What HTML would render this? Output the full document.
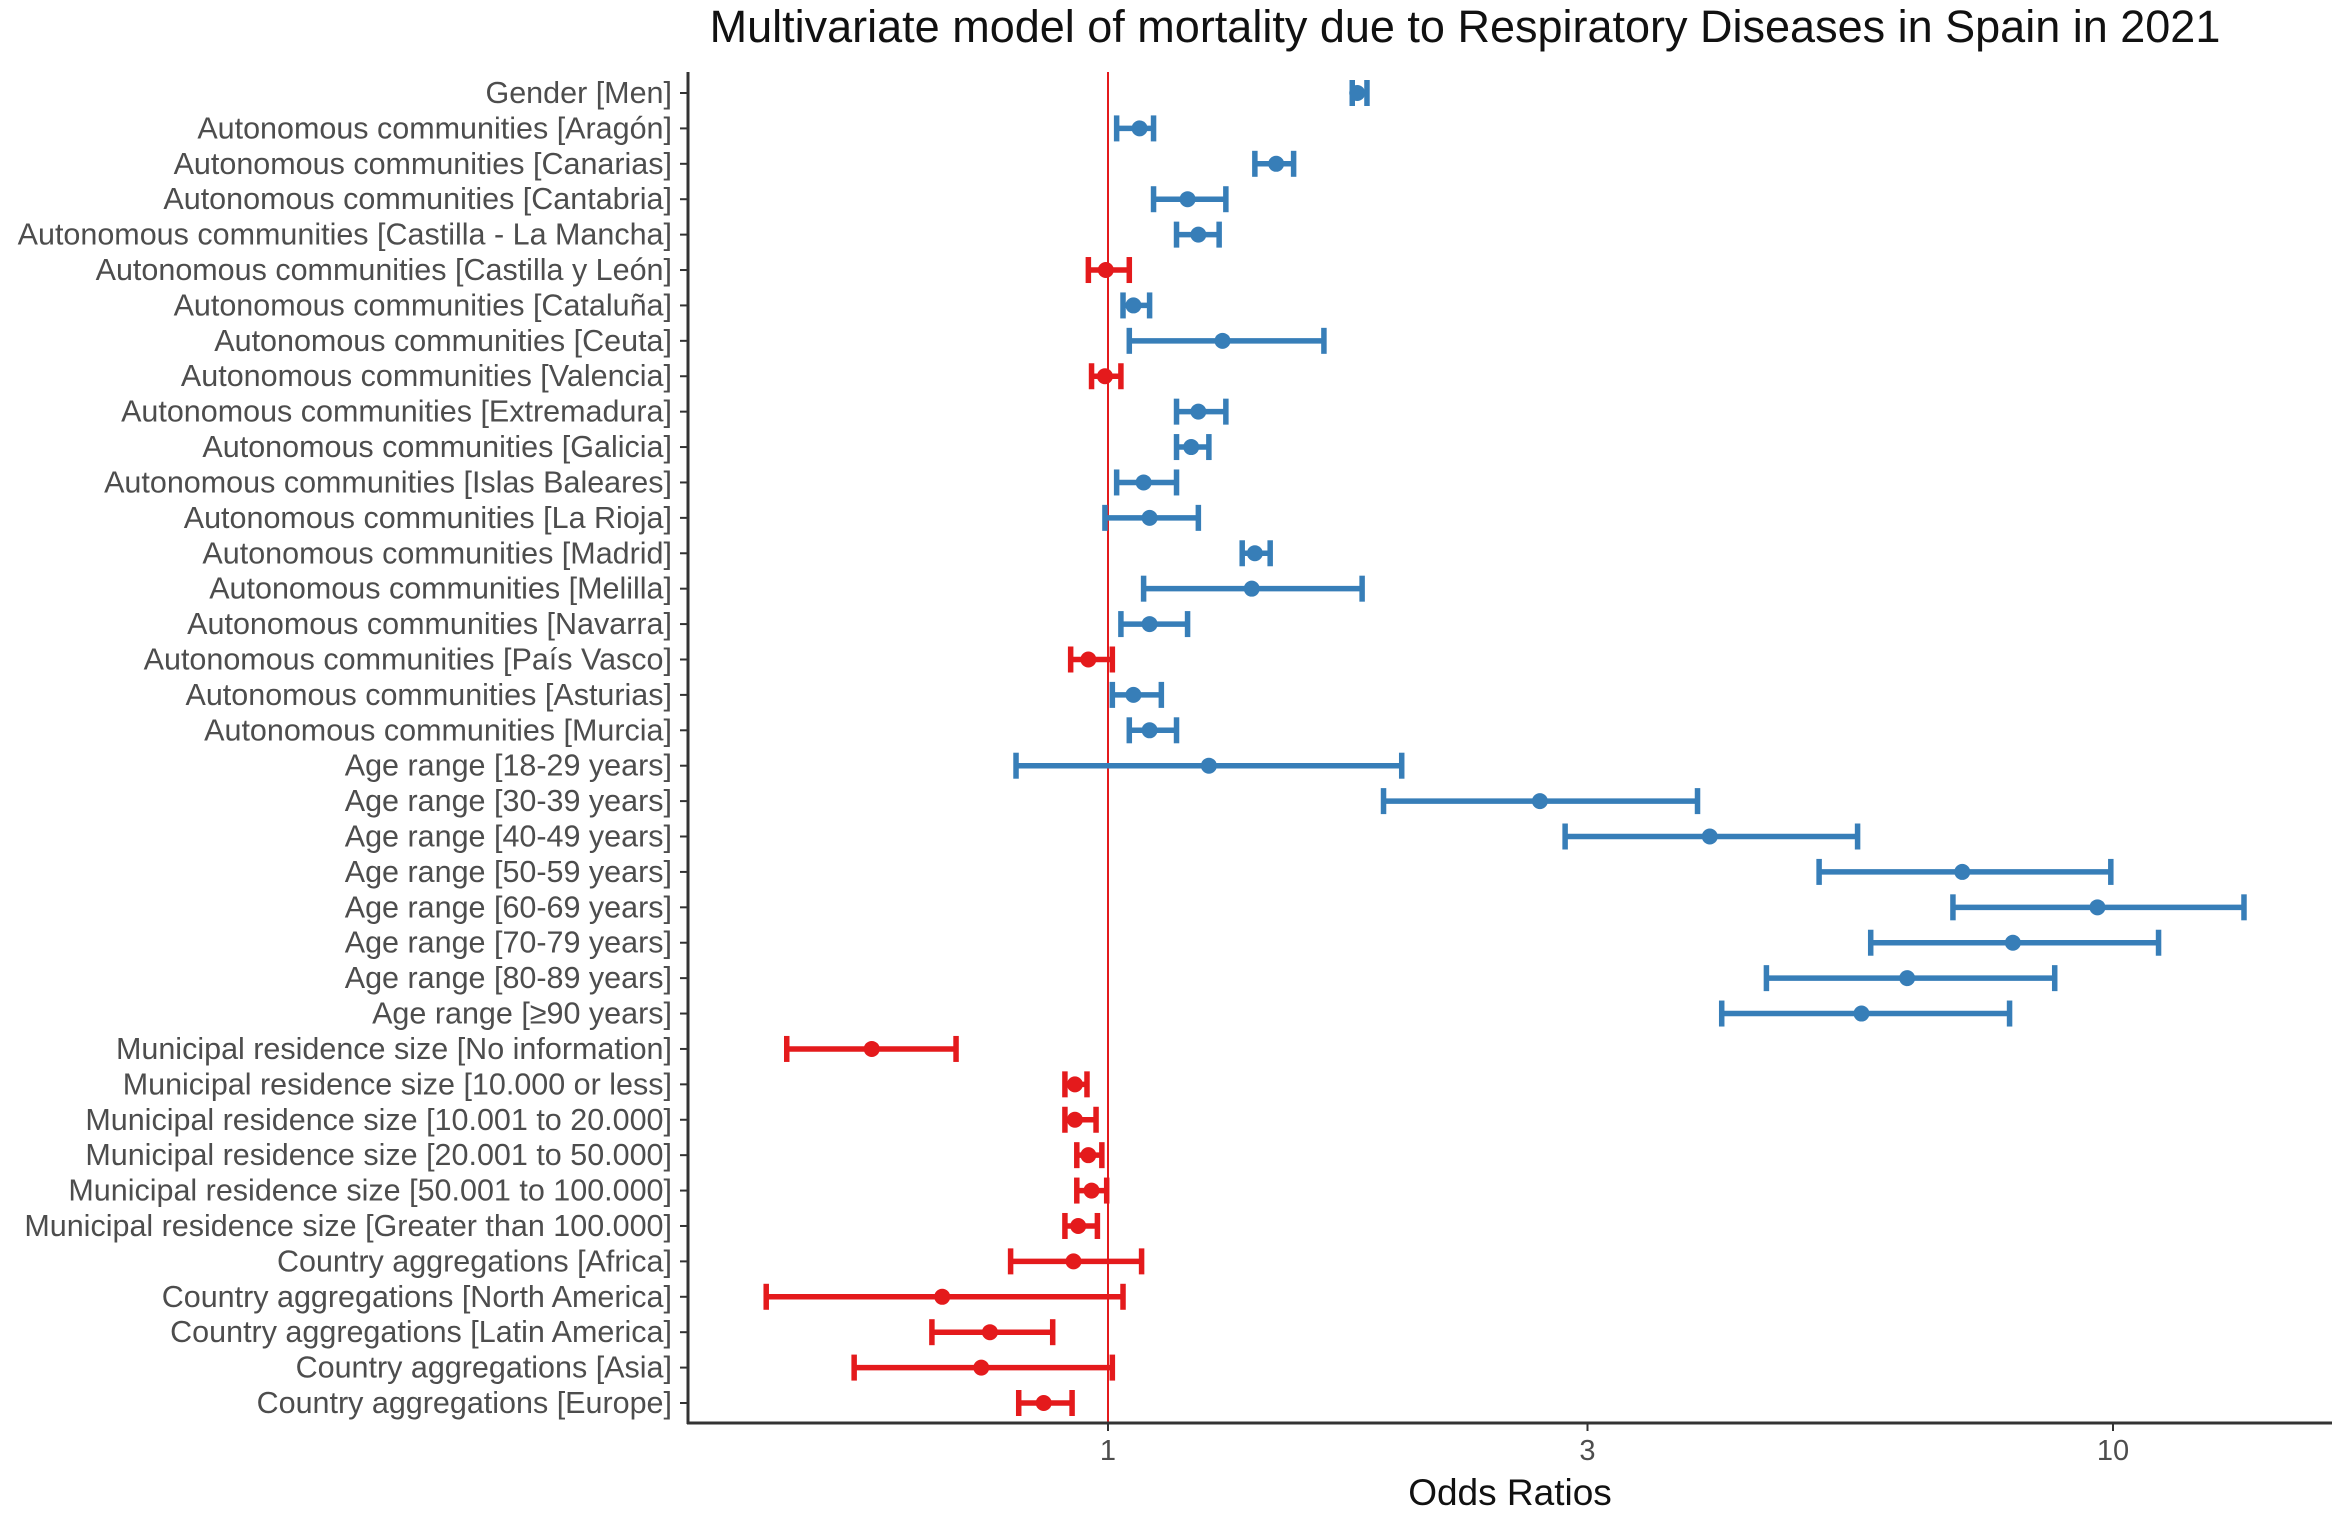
<!DOCTYPE html>
<html><head><meta charset="utf-8">
<style>
html,body{margin:0;padding:0;background:#fff;}
svg{display:block;font-family:"Liberation Sans",sans-serif;}
</style></head>
<body>
<svg id="chart" width="2341" height="1519" viewBox="0 0 2341 1519" xmlns="http://www.w3.org/2000/svg">
<rect width="2341" height="1519" fill="#fff"/>
<text x="1465" y="42" text-anchor="middle" font-size="45" fill="#111">Multivariate model of mortality due to Respiratory Diseases in Spain in 2021</text>
<g id="plot"></g>
</svg>
<script>
const categories = ["Gender [Men]","Autonomous communities [Aragón]","Autonomous communities [Canarias]","Autonomous communities [Cantabria]","Autonomous communities [Castilla - La Mancha]","Autonomous communities [Castilla y León]","Autonomous communities [Cataluña]","Autonomous communities [Ceuta]","Autonomous communities [Valencia]","Autonomous communities [Extremadura]","Autonomous communities [Galicia]","Autonomous communities [Islas Baleares]","Autonomous communities [La Rioja]","Autonomous communities [Madrid]","Autonomous communities [Melilla]","Autonomous communities [Navarra]","Autonomous communities [País Vasco]","Autonomous communities [Asturias]","Autonomous communities [Murcia]","Age range [18-29 years]","Age range [30-39 years]","Age range [40-49 years]","Age range [50-59 years]","Age range [60-69 years]","Age range [70-79 years]","Age range [80-89 years]","Age range [≥90 years]","Municipal residence size [No information]","Municipal residence size [10.000 or less]","Municipal residence size [10.001 to 20.000]","Municipal residence size [20.001 to 50.000]","Municipal residence size [50.001 to 100.000]","Municipal residence size [Greater than 100.000]","Country aggregations [Africa]","Country aggregations [North America]","Country aggregations [Latin America]","Country aggregations [Asia]","Country aggregations [Europe]"];
const estimates = [1.77,1.075,1.47,1.20,1.23,0.995,1.06,1.30,0.993,1.23,1.21,1.085,1.10,1.40,1.39,1.10,0.956,1.06,1.10,1.26,2.69,3.97,7.08,9.65,7.95,6.24,5.62,0.582,0.927,0.927,0.956,0.963,0.934,0.924,0.684,0.763,0.748,0.863];
const lower = [1.75,1.02,1.40,1.11,1.17,0.956,1.035,1.05,0.963,1.17,1.17,1.02,0.993,1.36,1.085,1.03,0.918,1.01,1.05,0.81,1.88,2.85,5.10,6.93,5.74,4.52,4.08,0.479,0.906,0.906,0.931,0.931,0.906,0.80,0.457,0.668,0.559,0.815];
const upper = [1.81,1.11,1.53,1.31,1.29,1.05,1.10,1.64,1.03,1.31,1.26,1.17,1.23,1.45,1.79,1.20,1.01,1.13,1.17,1.96,3.86,5.57,9.95,13.5,11.1,8.75,7.89,0.706,0.953,0.973,0.986,0.997,0.976,1.08,1.035,0.881,1.01,0.921];
const xTicks = [1,3,10];

const NS="http://www.w3.org/2000/svg";
const g=document.getElementById('plot');
const L=688,R=2332,T=72,B=1423,Y0=93,Y1=1403;
const x1=1108,dec=1005;
function xs(v){return x1+Math.log10(v)*dec;}
function ys(i){return Y0+i*(Y1-Y0)/(categories.length-1);}
function mk(t,a){const e=document.createElementNS(NS,t);for(const k in a)e.setAttribute(k,a[k]);g.appendChild(e);return e;}

let e=mk('line',{x1:xs(1),x2:xs(1),y1:T,y2:B,stroke:'#e41a1c','stroke-width':2});



categories.forEach((c,i)=>{
  const y=ys(i);
  const t=mk('text',{x:672,y:y+10,'text-anchor':'end','font-size':30.5,fill:'#4d4d4d'});
  t.textContent=c;
  
  
  const tk=mk('line',{x1:680,x2:688,y1:y,y2:y,stroke:'#333','stroke-width':2});
  
  
  const col=estimates[i]<1?'#e41a1c':'#377eb8';
  const grp=document.createElementNS(NS,'g');g.appendChild(grp);
  
  
  const a=xs(lower[i]),b=xs(upper[i]);
  [[a,y,b,y],[a,y-13,a,y+13],[b,y-13,b,y+13]].forEach(p=>{
    const l=document.createElementNS(NS,'line');
    l.setAttribute('x1',p[0]);l.setAttribute('y1',p[1]);l.setAttribute('x2',p[2]);l.setAttribute('y2',p[3]);
    l.setAttribute('stroke',col);l.setAttribute('stroke-width',5.5);grp.appendChild(l);
  });
  const pt=mk('circle',{cx:xs(estimates[i]),cy:y,r:8,fill:col});
  
  
});

e=mk('line',{x1:L,x2:L,y1:T,y2:B+1,stroke:'#333','stroke-width':3});


e=mk('line',{x1:L-1,x2:R,y1:B,y2:B,stroke:'#333','stroke-width':3});


xTicks.forEach(v=>{
  const tk=mk('line',{x1:xs(v),x2:xs(v),y1:B,y2:B+8,stroke:'#333','stroke-width':2});
  
  
  const t=mk('text',{x:xs(v),y:B+37,'text-anchor':'middle','font-size':29,fill:'#4d4d4d'});
  t.textContent=v;
  
  
});
const xt=mk('text',{x:(L+R)/2,y:1505,'text-anchor':'middle','font-size':37,fill:'#111'});
xt.textContent='Odds Ratios';


</script>
</body></html>
